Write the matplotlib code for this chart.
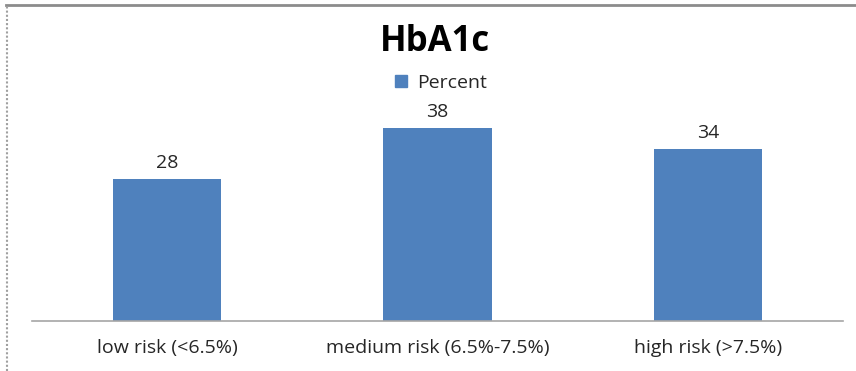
import matplotlib
matplotlib.use("Agg")
import matplotlib.pyplot as plt
from matplotlib.lines import Line2D
from matplotlib.patches import Patch

categories = ["low risk (<6.5%)", "medium risk (6.5%-7.5%)", "high risk (>7.5%)"]
percent = [28, 38, 34]
series_name = "Percent"
title = "HbA1c"

W, H = 856, 371
fig = plt.figure(figsize=(W / 100, H / 100), dpi=100)
plt.rcParams['font.family'] = ['Open Sans', 'DejaVu Sans']

ax = fig.add_axes([32 / W, 1 - 320.5 / H, (843 - 32) / W, (320.5 - 118.2) / H])
color = "#4F81BD"
x = list(range(len(categories)))
bars = ax.bar(x, percent, width=0.4, color=color)
ax.set_xlim(-0.5, len(categories) - 0.5)
ax.set_ylim(0, 40)
for b, v in zip(bars, percent):
    ax.annotate(str(v), (b.get_x() + b.get_width() / 2, v), xytext=(0, 5),
                textcoords="offset points", ha="center", va="bottom",
                fontsize=14, color="#262626")
ax.set_xticks(x)
ax.set_xticklabels(categories, fontsize=14, color="#262626")
ax.tick_params(axis="x", length=0, pad=13)
ax.set_yticks([])
for s in ["top", "right", "left"]:
    ax.spines[s].set_visible(False)
ax.spines["bottom"].set_color("#A6A6A6")
ax.spines["bottom"].set_linewidth(1.2)

fig.text(435 / W, 1 - 42 / H, title, ha="center", va="center",
         fontsize=25, fontweight="bold", color="black")
leg = fig.legend(handles=[Patch(color=color, label=series_name)],
                 loc="center", bbox_to_anchor=(441 / W, 1 - 83 / H),
                 frameon=False, fontsize=14, handlelength=0.6, handleheight=0.6,
                 handletextpad=0.5)
for t in leg.get_texts():
    t.set_color("#262626")

fig.add_artist(Line2D([6 / W, 1], [1 - 4.5 / H] * 2, transform=fig.transFigure,
                      color="#8C8C8C", lw=2))
fig.add_artist(Line2D([6.5 / W] * 2, [0, 1 - 4.5 / H], transform=fig.transFigure,
                      color="#A0A0A0", lw=1.5, linestyle=(0, (1, 1))))

fig.savefig("out.png", dpi=100)
